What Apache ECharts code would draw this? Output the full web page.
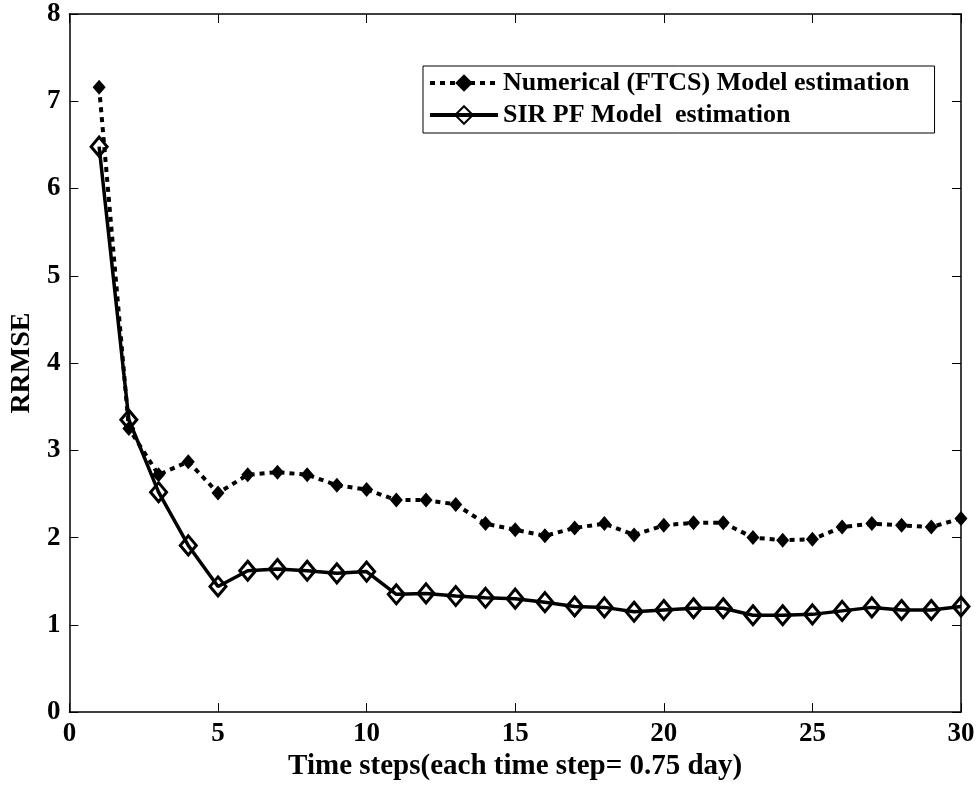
<!DOCTYPE html>
<html>
<head>
<meta charset="utf-8">
<script src="https://cdn.jsdelivr.net/npm/echarts@6/dist/echarts.min.js"></script>
<style>
  html, body { margin: 0; padding: 0; background: #fff; }
  #chart { width: 979px; height: 786px; }
</style>
</head>
<body>
<div id="chart"></div>
<script>
// time steps 1..30
const steps = [1, 2, 3, 4, 5, 6, 7, 8, 9, 10, 11, 12, 13, 14, 15,
    16, 17, 18, 19, 20, 21, 22, 23, 24, 25, 26, 27, 28, 29, 30]

// RRMSE
const ftcsValues = [7.16, 3.25, 2.72, 2.87, 2.51, 2.72, 2.75, 2.72, 2.60, 2.55,
    2.43, 2.43, 2.38, 2.16, 2.09, 2.02, 2.11, 2.16, 2.03, 2.14,
    2.17, 2.17, 2.00, 1.97, 1.98, 2.12, 2.16, 2.14, 2.12, 2.22]
const sirValues = [6.48, 3.35, 2.52, 1.91, 1.44, 1.62, 1.64, 1.62, 1.59, 1.61,
    1.35, 1.36, 1.33, 1.31, 1.30, 1.26, 1.21, 1.20, 1.15, 1.17,
    1.19, 1.19, 1.11, 1.11, 1.12, 1.16, 1.20, 1.17, 1.17, 1.21]

const xTicks = [0, 5, 10, 15, 20, 25, 30]
const yTicks = [0, 1, 2, 3, 4, 5, 6, 7, 8]

const seriesNames = ["Numerical (FTCS) Model estimation", "SIR PF Model  estimation"]

const font = "Liberation Serif"

const pairs = (vals) => steps.map((s, i) => [s, vals[i]])

const chart = echarts.init(document.getElementById("chart"))

const baseAxis = {
    type: "value",
    axisLine: { show: true, onZero: false, lineStyle: { color: "#000", width: 1.5 } },
    axisTick: { show: true, inside: true, length: 9, lineStyle: { color: "#000", width: 1 } },
    splitLine: { show: false },
}

const option = {
    backgroundColor: "#fff",
    animation: false,
    grid: { left: 69, right: 18, top: 14, bottom: 68, containLabel: false },
    legend: {
        data: seriesNames,
        orient: "vertical",
        left: 423,
        top: 66,
        itemWidth: 68,
        itemHeight: 22,
        itemGap: 6,
        padding: [4, 25, 5, 5],
        borderColor: "#000",
        borderWidth: 1,
        backgroundColor: "#fff",
        lineStyle: { width: 4 },
        textStyle: { fontFamily: font, fontWeight: "bold", fontSize: 26, color: "#000" },
    },
    xAxis: [
        {
            ...baseAxis,
            min: 0, max: 30, interval: 5,
            position: "bottom",
            name: "Time steps(each time step= 0.75 day)",
            nameLocation: "middle",
            nameGap: 35,
            nameTextStyle: { fontFamily: font, fontWeight: "bold", fontSize: 29, color: "#000" },
            axisLabel: {
                margin: 8, fontFamily: font, fontWeight: "bold", fontSize: 27, color: "#000",
                formatter: (v) => xTicks.includes(v) ? String(v) : "",
            },
        },
        {
            ...baseAxis,
            min: 0, max: 30, interval: 5,
            position: "top",
            axisLabel: { show: false },
        },
    ],
    yAxis: [
        {
            ...baseAxis,
            min: 0, max: 8, interval: 1,
            position: "left",
            name: "RRMSE",
            nameLocation: "middle",
            nameGap: 30,
            nameTextStyle: { fontFamily: font, fontWeight: "bold", fontSize: 28, color: "#000" },
            axisLabel: {
                margin: 9, fontFamily: font, fontWeight: "bold", fontSize: 27, color: "#000",
                formatter: (v) => yTicks.includes(v) ? String(v) : "",
            },
        },
        {
            ...baseAxis,
            min: 0, max: 8, interval: 1,
            position: "right",
            axisLabel: { show: false },
        },
    ],
    series: [
        {
            name: seriesNames[0],
            type: "line",
            data: pairs(ftcsValues),
            symbol: "diamond",
            symbolSize: [13, 15],
            lineStyle: { color: "#000", width: 4, type: [5, 5] },
            itemStyle: { color: "#000" },
            z: 3,
        },
        {
            name: seriesNames[1],
            type: "line",
            data: pairs(sirValues),
            symbol: "diamond",
            symbolSize: [16, 19],
            lineStyle: { color: "#000", width: 3.5 },
            itemStyle: { color: "rgba(255,255,255,0)", borderColor: "#000", borderWidth: 3 },
            z: 4,
        },
    ],
}

chart.setOption(option)
</script>
</body>
</html>
